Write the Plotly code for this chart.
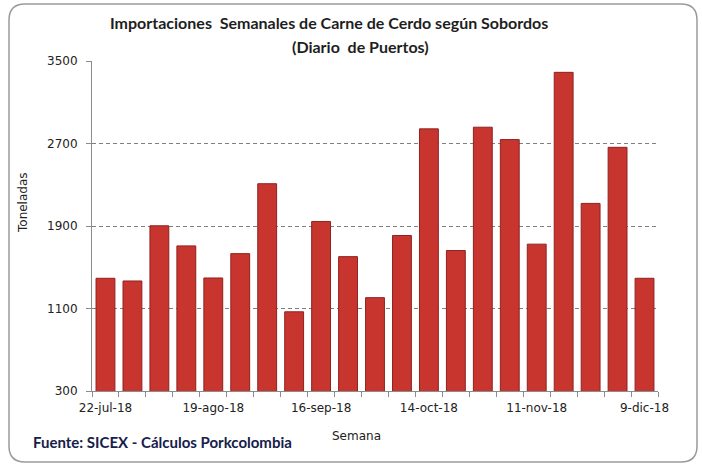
import plotly.graph_objects as go

# ---- data ----
weeks = ["22-jul-18", "29-jul-18", "5-ago-18", "12-ago-18", "19-ago-18", "26-ago-18",
         "2-sep-18", "9-sep-18", "16-sep-18", "23-sep-18", "30-sep-18", "7-oct-18",
         "14-oct-18", "21-oct-18", "28-oct-18", "4-nov-18", "11-nov-18", "18-nov-18",
         "25-nov-18", "2-dic-18", "9-dic-18"]
toneladas = [1393, 1367, 1902, 1707, 1396, 1632, 2310, 1068, 1944, 1603, 1205,
             1808, 2842, 1662, 2858, 2738, 1724, 3390, 2119, 2663, 1393]
tick_labels = ["22-jul-18", "19-ago-18", "16-sep-18", "14-oct-18", "11-nov-18", "9-dic-18"]
y_ticks = [300, 1100, 1900, 2700, 3500]

# ---- geometry ----
W, H = 702, 466
L, R, T, B = 92, 44, 61, 75
PW, PH = W - L - R, H - T - B

def px(x):
    return (x - L) / PW

def py(y):
    return (H - B - y) / PH

xs = list(range(len(weeks)))
tickvals = [weeks.index(t) for t in tick_labels]

fig = go.Figure()
fig.add_trace(go.Bar(
    x=xs, y=toneladas, width=0.7,
    marker=dict(color="#C8352F", line=dict(color="#8E2220", width=1)),
    hovertext=weeks, hoverinfo="text+y",
))

grey = "#8C8C8C"
tick_font = dict(family="DejaVu Sans", size=12, color="#222222")

fig.update_layout(
    width=W, height=H,
    margin=dict(l=L, r=R, t=T, b=B),
    paper_bgcolor="white", plot_bgcolor="white",
    showlegend=False,
    xaxis=dict(
        range=[-0.5, len(weeks) - 0.5],
        tickmode="array", tickvals=tickvals, ticktext=tick_labels,
        ticks="", showgrid=False, zeroline=False,
        showline=True, linecolor=grey, linewidth=1,
        tickfont=tick_font, ticklabelstandoff=6,
        minor=dict(tickmode="linear", tick0=-0.5, dtick=1, ticks="outside",
                   ticklen=5, tickcolor=grey, tickwidth=1, showgrid=False),
    ),
    yaxis=dict(
        range=[300, 3500], tickmode="array", tickvals=y_ticks,
        ticks="outside", ticklen=5, tickcolor=grey,
        showline=True, linecolor=grey, linewidth=1,
        showgrid=True, gridcolor="#7F7F7F", gridwidth=1, griddash="4px,3px",
        zeroline=False, tickfont=tick_font, ticklabelstandoff=6,
    ),
)

annos = [
    dict(text="<b>Importaciones  Semanales de Carne de Cerdo según Sobordos</b>",
         x=px(329), y=py(22), font=dict(family="Lato", size=16, color="#1E1E1E")),
    dict(text="<b>(Diario  de Puertos)</b>",
         x=px(360), y=py(46), font=dict(family="Lato", size=16, color="#1E1E1E")),
    dict(text="Toneladas", x=px(23), y=py(203), textangle=-90,
         font=dict(family="DejaVu Sans", size=12, color="#222222")),
    dict(text="Semana", x=px(356), y=py(436),
         font=dict(family="DejaVu Sans", size=12, color="#222222")),
    dict(text="<b>Fuente: SICEX - Cálculos Porkcolombia</b>", x=px(162), y=py(442),
         font=dict(family="Lato", size=15, color="#15204A")),
]
for a in annos:
    fig.add_annotation(xref="paper", yref="paper", showarrow=False,
                       xanchor="center", yanchor="middle", **a)

# rounded outer border
x0, x1, y0, y1, r = 9, 697, 4, 462, 16
path = (f"M {px(x0 + r)} {py(y0)} L {px(x1 - r)} {py(y0)} "
        f"Q {px(x1)} {py(y0)} {px(x1)} {py(y0 + r)} "
        f"L {px(x1)} {py(y1 - r)} Q {px(x1)} {py(y1)} {px(x1 - r)} {py(y1)} "
        f"L {px(x0 + r)} {py(y1)} Q {px(x0)} {py(y1)} {px(x0)} {py(y1 - r)} "
        f"L {px(x0)} {py(y0 + r)} Q {px(x0)} {py(y0)} {px(x0 + r)} {py(y0)} Z")
fig.add_shape(type="path", path=path, xref="paper", yref="paper",
              line=dict(color="#9A9A9A", width=1.5), layer="below")

fig.write_html("out.html", config={"displayModeBar": False},
               post_script="document.body.style.margin='0';document.body.style.overflow='hidden';")
